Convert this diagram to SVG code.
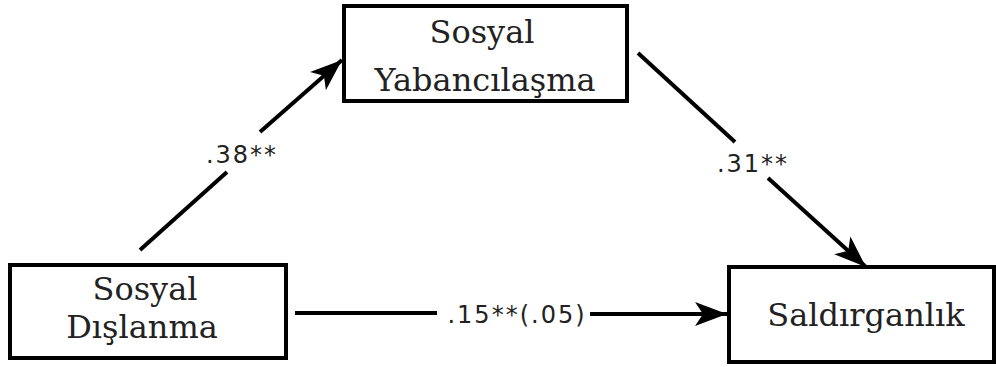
<svg xmlns="http://www.w3.org/2000/svg" width="996" height="367" viewBox="0 0 996 367">
<style>
.box{fill:#fff;stroke:#000;stroke-width:4}
.nt{font-family:"DejaVu Serif","Liberation Serif",serif;font-size:32px;fill:#222;text-anchor:middle}
.lbl{font-family:"DejaVu Sans","Liberation Sans",sans-serif;font-size:24px;fill:#222;text-anchor:middle;letter-spacing:2px}
.ln{stroke:#000;stroke-width:4;fill:none}
</style>
<defs>
<marker id="ah" markerUnits="userSpaceOnUse" markerWidth="34" markerHeight="28" viewBox="0 0 34 28" refX="32" refY="14" orient="auto">
<path d="M0,2 L32,14 L0,26 L8,14 z" fill="#000"/>
</marker>
</defs>
<rect width="996" height="367" fill="#fff"/>
<g id="connectors">
<line class="ln" x1="140" y1="250" x2="227" y2="172"/>
<line class="ln" x1="260" y1="132" x2="342" y2="60" marker-end="url(#ah)"/>
<line class="ln" x1="638" y1="53" x2="735" y2="142"/>
<line class="ln" x1="768" y1="178" x2="866" y2="267" marker-end="url(#ah)"/>
<line class="ln" x1="295" y1="313" x2="437" y2="313"/>
<line class="ln" x1="590" y1="314" x2="727" y2="314" marker-end="url(#ah)"/>
<text class="lbl" x="242" y="163">.38**</text>
<text class="lbl" x="753" y="172">.31**</text>
<text class="lbl" x="517" y="323">.15**(.05)</text>
</g>
<g id="node-yabancilasma">
<rect class="box" x="344" y="6" width="283" height="95"/>
<text class="nt" x="482" y="43">Sosyal</text>
<text class="nt" x="485" y="91">Yabancılaşma</text>
</g>
<g id="node-dislanma">
<rect class="box" x="10" y="265" width="276" height="93"/>
<text class="nt" x="145" y="300">Sosyal</text>
<text class="nt" x="142" y="338">Dışlanma</text>
</g>
<g id="node-saldirganlik">
<rect class="box" x="729" y="267" width="265" height="95"/>
<text class="nt" x="866" y="326">Saldırganlık</text>
</g>
</svg>
